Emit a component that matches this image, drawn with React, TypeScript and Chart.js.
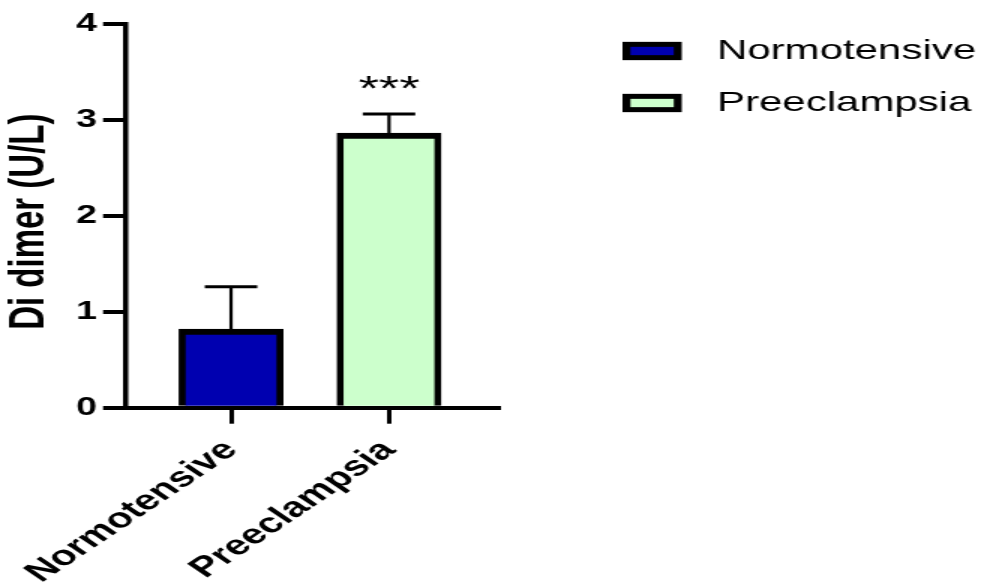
import React, { useEffect, useRef } from 'react';
import { Chart, registerables } from 'chart.js';

Chart.register(...registerables);

// ---- data ----
const categories = ['Normotensive', 'Preeclampsia'];
const positions = [1, 2];
const means = [0.82, 2.86];
const sem = [0.44, 0.2];
const fillColors = ['#0000B0', '#CCFFCC'];
const yTicks = [0, 1, 2, 3, 4];
const significance = ['', '***'];
const yTitle = 'Di dimer (U/L)';

// ---- layout (the reference is stretched horizontally) ----
const STRETCH = 1.5;
const W = 990;
const H = 586;
const CW = Math.round(W / STRETCH);
const FONT = "'Liberation Sans', Arial, sans-serif";

export default function App() {
  const ref = useRef<HTMLCanvasElement>(null);

  useEffect(() => {
    document.body.style.margin = '0';
    const canvas = ref.current;
    if (!canvas) return;

    const errorBars = {
      id: 'errorBars',
      afterDatasetsDraw(chart: any) {
        const { ctx } = chart;
        const y = chart.scales.y;
        const meta = chart.getDatasetMeta(0);
        ctx.save();
        ctx.strokeStyle = '#000';
        meta.data.forEach((bar: any, i: number) => {
          const x = bar.x;
          const yMean = y.getPixelForValue(means[i]);
          const yTop = y.getPixelForValue(means[i] + sem[i]);
          ctx.lineWidth = 2.2;
          ctx.beginPath();
          ctx.moveTo(x, yMean);
          ctx.lineTo(x, yTop);
          ctx.stroke();
          ctx.lineWidth = 3;
          ctx.beginPath();
          ctx.moveTo(x - 17.5, yTop);
          ctx.lineTo(x + 17.5, yTop);
          ctx.stroke();
          if (significance[i]) {
            ctx.fillStyle = '#000';
            ctx.font = `35px ${FONT}`;
            ctx.textAlign = 'center';
            ctx.textBaseline = 'alphabetic';
            ctx.fillText(significance[i], x, yTop - 14);
          }
        });
        ctx.restore();
      },
    };

    const sideLegend = {
      id: 'sideLegend',
      afterDraw(chart: any) {
        const { ctx, chartArea } = chart;
        const x0 = 415;
        const y0 = 51;
        const rowGap = 52;
        const bw = 39.5;
        const bh = 18.3;
        const bx = 5.3;
        const by = 5;
        ctx.save();
        categories.forEach((name, i) => {
          const cy = y0 + i * rowGap;
          ctx.fillStyle = '#000';
          ctx.fillRect(x0, cy - bh / 2, bw, bh);
          ctx.fillStyle = fillColors[i];
          ctx.fillRect(x0 + bx, cy - bh / 2 + by, bw - 2 * bx, bh - 2 * by);
          ctx.fillStyle = '#000';
          ctx.font = `28px ${FONT}`;
          ctx.textAlign = 'left';
          ctx.textBaseline = 'middle';
          ctx.fillText(name, 478, cy);
        });
        // y axis title
        ctx.translate(20, (chartArea.top + chartArea.bottom) / 2 + 6);
        ctx.rotate(-Math.PI / 2);
        ctx.font = `bold 33px ${FONT}`;
        ctx.textAlign = 'center';
        ctx.textBaseline = 'middle';
        ctx.fillStyle = '#000';
        ctx.fillText(yTitle, 0, 0);
        ctx.restore();
      },
    };

    const chart = new Chart(canvas, {
      type: 'bar',
      data: {
        datasets: [
          {
            label: yTitle,
            data: positions.map((p, i) => ({ x: p, y: means[i] })),
            backgroundColor: fillColors,
            borderColor: '#000',
            borderWidth: { top: 6, left: 4.7, right: 4.7, bottom: 0 },
            borderSkipped: false,
            barThickness: 69.3,
          } as any,
        ],
      },
      options: {
        responsive: false,
        animation: false,
        devicePixelRatio: 1,
        font: { family: FONT },
        layout: { padding: { left: 0, top: 23.7, right: CW - 332, bottom: 0 } },
        plugins: { legend: { display: false }, tooltip: { enabled: false } },
        scales: {
          x: {
            type: 'linear',
            offset: false,
            min: 0.335,
            max: 2.69,
            bounds: 'data',
            afterBuildTicks: (s: any) => {
              s.ticks = positions.map((v) => ({ value: v }));
            },
            afterFit: (s: any) => {
              s.height = H - 407.7;
              s.paddingLeft = 0;
              s.paddingRight = 0;
            },
            ticks: {
              autoSkip: false,
              minRotation: 45,
              maxRotation: 45,
              padding: 10,
              color: '#000',
              font: { family: FONT, size: 28, weight: 'bold' },
              callback: (_v: any, i: number) => categories[i],
            },
            grid: {
              offset: false,
              drawOnChartArea: false,
              drawTicks: true,
              tickLength: 16,
              lineWidth: 3,
              color: '#000',
            },
            border: { display: true, width: 4, color: '#000' },
          },
          y: {
            min: 0,
            max: 4,
            afterBuildTicks: (s: any) => {
              s.ticks = yTicks.map((v) => ({ value: v }));
            },
            afterFit: (s: any) => {
              s.width = 84;
            },
            ticks: { padding: 4, color: '#000', font: { family: FONT, size: 25, weight: 'bold' } },
            grid: { drawOnChartArea: false, drawTicks: true, tickLength: 15.3, lineWidth: 4, color: '#000' },
            border: { display: true, width: 3.5, color: '#000' },
            title: { display: false },
          },
        },
      } as any,
      plugins: [errorBars, sideLegend],
    });

    return () => chart.destroy();
  }, []);

  return (
    <div style={{ width: W, height: H, overflow: 'hidden', background: '#fff' }}>
      <canvas
        ref={ref}
        width={CW}
        height={H}
        style={{ width: `${W}px`, height: `${H}px`, display: 'block' }}
      />
    </div>
  );
}
